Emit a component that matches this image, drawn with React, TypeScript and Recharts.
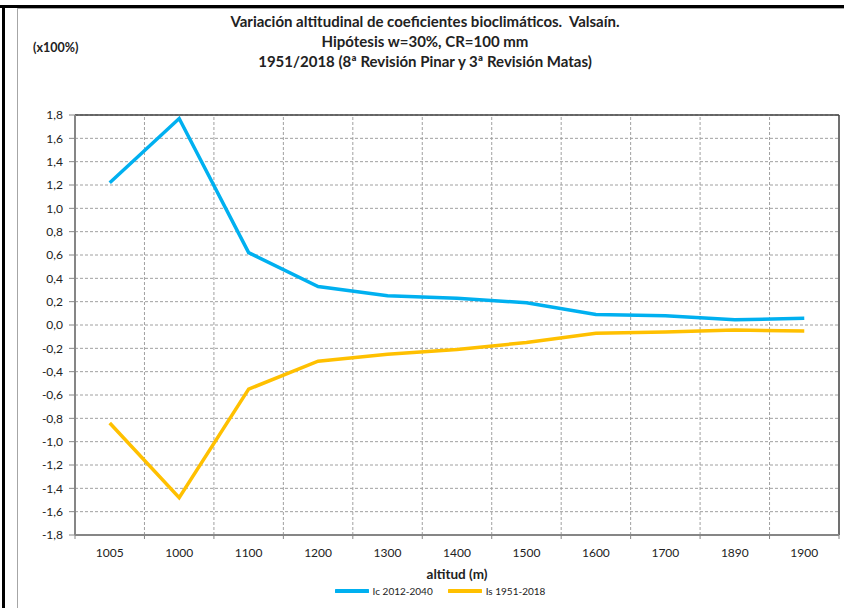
import React from 'react';
import {
  LineChart,
  Line,
  XAxis,
  YAxis,
  CartesianGrid,
  ReferenceLine,
  Legend,
} from 'recharts';

const categories = ['1005', '1000', '1100', '1200', '1300', '1400', '1500', '1600', '1700', '1890', '1900'];
const icValues = [1.22, 1.77, 0.62, 0.33, 0.25, 0.23, 0.19, 0.09, 0.08, 0.045, 0.057];
const isValues = [-0.84, -1.48, -0.55, -0.31, -0.25, -0.21, -0.15, -0.071, -0.06, -0.043, -0.052];
const yTicks = [-1.8, -1.6, -1.4, -1.2, -1.0, -0.8, -0.6, -0.4, -0.2, 0, 0.2, 0.4, 0.6, 0.8, 1.0, 1.2, 1.4, 1.6, 1.8];
const seriesNames = ['Ic 2012-2040', 'Is 1951-2018'];
const seriesColors = ['#00B0F0', '#FFC000'];
const titleLines = [
  'Variación altitudinal de coeficientes bioclimáticos.  Valsaín.',
  'Hipótesis w=30%, CR=100 mm',
  '1951/2018 (8ª Revisión Pinar y 3ª Revisión Matas)',
];

const data = categories.map((c, i) => ({ idx: i, label: c, ic: icValues[i], is: isValues[i] }));
const boundaryTicks = categories.map((_, i) => i - 0.5).concat([categories.length - 0.5]);
const xTicks = boundaryTicks.concat(categories.map((_, i) => i)).sort((a, b) => a - b);
const innerBoundaries = boundaryTicks.slice(1, -1);

const FONT = 'Lato, "Liberation Sans", Arial, sans-serif';

const XTick = (props: any) => {
  const { x, y, payload } = props;
  const v = payload.value;
  if (Number.isInteger(v)) {
    return (
      <text x={x} y={y + 22} textAnchor="middle" fontSize={12} fill="#222" fontFamily={FONT}>
        {categories[v]}
      </text>
    );
  }
  return <line x1={x} y1={y} x2={x} y2={y + 4} stroke="#868686" strokeWidth={1} />;
};

const LegendContent = () => (
  <div style={{ display: 'flex', justifyContent: 'center', alignItems: 'center', fontFamily: FONT, fontSize: 10, color: '#222' }}>
    {seriesNames.map((n, i) => (
      <div key={n} style={{ display: 'flex', alignItems: 'center', marginRight: i === 0 ? 15 : 0 }}>
        <svg width={34} height={6} style={{ marginRight: 4 }}>
          <line x1={1} y1={3} x2={33} y2={3} stroke={seriesColors[i]} strokeWidth={4} strokeLinecap="round" />
        </svg>
        <span>{n}</span>
      </div>
    ))}
  </div>
);

export default function App() {
  return (
    <div style={{ position: 'absolute', left: 0, top: 0, width: 844, height: 608, background: '#fff', overflow: 'hidden' }}>
      <div style={{ position: 'absolute', left: 0, top: 5, width: 844, height: 3, background: '#000' }} />
      <div style={{ position: 'absolute', left: 2, top: 5, width: 3, height: 603, background: '#000' }} />
      <div style={{ position: 'absolute', left: 17, top: 8, width: 827, height: 1, background: '#a6a6a6' }} />
      <div style={{ position: 'absolute', left: 17, top: 8, width: 1, height: 600, background: '#a6a6a6' }} />
      <div style={{ position: 'absolute', left: 0, top: 0 }}>
        <LineChart width={844} height={608} data={data} margin={{ top: 115, right: 5, bottom: 29, left: 0 }}>
          <CartesianGrid vertical={false} stroke="#a0a0a0" strokeDasharray="3 2" />
          {innerBoundaries.map((b) => (
            <ReferenceLine key={b} x={b} stroke="#a0a0a0" strokeDasharray="3 2" />
          ))}
          <ReferenceLine y={1.8} stroke="#404040" strokeWidth={1.5} />
          <ReferenceLine x={categories.length - 0.5} stroke="#404040" strokeWidth={1.5} />
          <XAxis
            type="number"
            dataKey="idx"
            domain={[-0.5, categories.length - 0.5]}
            ticks={xTicks}
            interval={0}
            tick={<XTick />}
            tickLine={false}
            tickSize={0}
            tickMargin={0}
            height={44}
            axisLine={{ stroke: '#868686', strokeWidth: 2 }}
            label={{ value: 'altitud (m)', position: 'insideBottom', offset: 0, style: { fontFamily: FONT, fontSize: 13.5, fontWeight: 700, fill: '#222' } }}
          />
          <YAxis
            type="number"
            domain={[-1.8, 1.8]}
            ticks={yTicks}
            interval={0}
            width={75}
            tickSize={6}
            tickMargin={6}
            tickFormatter={(v: number) => v.toFixed(1).replace('.', ',')}
            tick={{ fontFamily: FONT, fontSize: 12, fill: '#222' }}
            axisLine={{ stroke: '#868686', strokeWidth: 2 }}
            tickLine={{ stroke: '#868686' }}
          />
          <Legend
            layout="horizontal"
            verticalAlign="middle"
            align="center"
            content={<LegendContent />}
            wrapperStyle={{ position: 'absolute', left: 0, top: 585, width: 880, height: 13 }}
          />
          <Line type="linear" dataKey="ic" name={seriesNames[0]} stroke={seriesColors[0]} strokeWidth={3.5} dot={false} isAnimationActive={false} />
          <Line type="linear" dataKey="is" name={seriesNames[1]} stroke={seriesColors[1]} strokeWidth={3.5} dot={false} isAnimationActive={false} />
        </LineChart>
      </div>
      <div style={{ position: 'absolute', left: 0, top: 11, width: 850, textAlign: 'center', fontFamily: FONT, fontWeight: 700, fontSize: 15, lineHeight: '20px', color: '#222' }}>
        {titleLines.map((t) => (
          <div key={t} style={{ whiteSpace: 'pre' }}>{t}</div>
        ))}
      </div>
      <div style={{ position: 'absolute', left: 33, top: 40, fontFamily: FONT, fontWeight: 700, fontSize: 12.5, lineHeight: '16px', color: '#222' }}>
        (x100%)
      </div>
    </div>
  );
}
